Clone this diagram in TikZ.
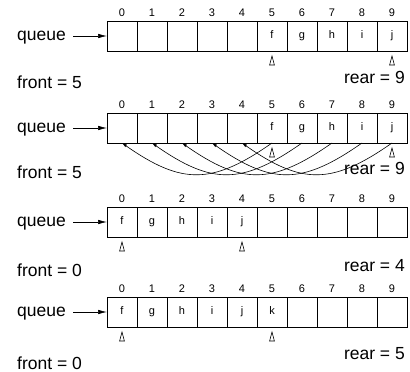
\documentclass[tikz,border=0pt]{standalone}
\usepackage{fontspec}
\setmainfont{Liberation Sans}
\usetikzlibrary{arrows.meta}

\tikzset{
  cell/.style={draw, line width=0.6pt, minimum width=30pt, minimum height=30pt, inner sep=0pt, outer sep=0pt},
  small/.style={font=\fontsize{11}{13}\selectfont, inner sep=0pt, text height=8pt, text depth=2.5pt},
  big/.style={font=\fontsize{17.5}{20}\selectfont, inner sep=0pt, text height=13pt, text depth=3.5pt},
  ptr/.style={line width=0.6pt, -{Latex[length=9pt,width=4.5pt]}},
  wrapback/.style={line width=0.6pt, -{Latex[length=5pt,width=3pt]}},
}
\newcommand{\uptri}[1]{\draw[line width=0.6pt] ([yshift=-5pt]#1.south) -- ++(-2.4,-9) -- ++(4.8,0) -- cycle;}

\begin{document}
\begin{tikzpicture}[x=1pt,y=1pt]
  \useasboundingbox (0,0) rectangle (410,-372);
  \foreach \p/\y in {a/36,b/128,c/222,d/312}{
    \foreach \i in {0,...,9}{
      \node[cell] (\p\i) at (122+30*\i,-\y) {};
      \node[small] (\p n\i) at ([yshift=7pt]\p\i.north) {\i};
    }
    \node[big,anchor=west] (\p q) at (17,-\y) {queue};
    \draw[ptr] ([xshift=7pt]\p q.east) -- (\p0.west);
  }
  \foreach \i/\t in {5/f,6/g,7/h,8/i,9/j} \node[small] (av\i) at (a\i) {\t};
  \foreach \i/\t in {5/f,6/g,7/h,8/i,9/j} \node[small] (bv\i) at (b\i) {\t};
  \foreach \i/\t in {0/f,1/g,2/h,3/i,4/j} \node[small] (cv\i) at (c\i) {\t};
  \foreach \i/\t in {0/f,1/g,2/h,3/i,4/j,5/k} \node[small] (dv\i) at (d\i) {\t};
  \node[big,anchor=west] (af) at (17,-83.5) {front = 5};
  \node[big,anchor=east] (ar) at (405,-78.5) {rear = 9};
  \node[big,anchor=west] (bf) at (17,-173.5) {front = 5};
  \node[big,anchor=east] (br) at (405,-169.5) {rear = 9};
  \node[big,anchor=west] (cf) at (17,-271.5) {front = 0};
  \node[big,anchor=east] (cr) at (405,-266.5) {rear = 4};
  \node[big,anchor=west] (df) at (17,-364.5) {front = 0};
  \node[big,anchor=east] (dr) at (405,-354.5) {rear = 5};
  \foreach \i in {0,...,4}{
    \pgfmathtruncatemacro\j{\i+5}
    \draw[wrapback] (b\j.south) to[out=-145,in=-35,looseness=1.25] (b\i.south);
  }
  \uptri{a5} \uptri{a9} \uptri{b5} \uptri{b9}
  \uptri{c0} \uptri{c4} \uptri{d0} \uptri{d5}
\end{tikzpicture}
\end{document}
